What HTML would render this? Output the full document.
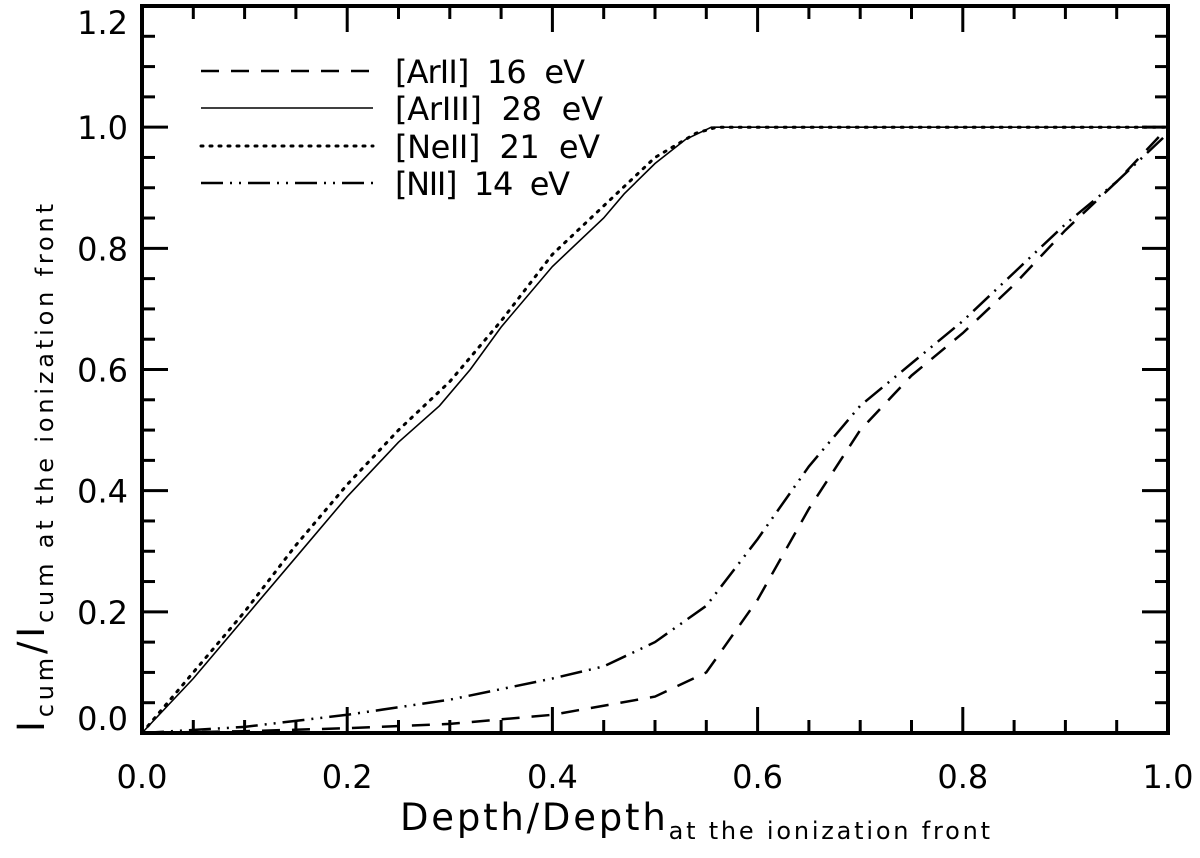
<!DOCTYPE html>
<html><head><meta charset="utf-8"><style>
body{margin:0;background:#fff;}
svg text{font-family:"DejaVu Sans","Liberation Sans",sans-serif;fill:#000;}
</style></head><body>
<svg id="chart" width="1200" height="853" xmlns="http://www.w3.org/2000/svg">
<g id="axes"></g>
<g id="series"></g>
<g id="legend"></g>
<text x="400" y="830" font-size="37" textLength="590" lengthAdjust="spacing">Depth/Depth<tspan font-size="24" dy="9">at the ionization front</tspan></text>
<text transform="translate(44,732) rotate(-90)" font-size="37" textLength="528" lengthAdjust="spacing">I<tspan font-size="24" dy="9">cum</tspan><tspan dy="-9">/I</tspan><tspan font-size="24" dy="9">cum at the ionization front</tspan></text>
</svg>
<script>
const xTicks=[0,0.2,0.4,0.6,0.8,1.0];
const yTicks=[0,0.2,0.4,0.6,0.8,1.0,1.2];
const arIIx=[0,0.1,0.2,0.3,0.4,0.5,0.55,0.6,0.65,0.7,0.75,0.8,0.85,0.9,0.95,1];
const arIIy=[0,0.003,0.008,0.015,0.03,0.06,0.1,0.22,0.37,0.5,0.59,0.66,0.74,0.83,0.91,1.0];
const arIIIx=[0,0.05,0.1,0.15,0.2,0.25,0.29,0.32,0.35,0.4,0.45,0.47,0.5,0.53,0.555,1];
const arIIIy=[0,0.09,0.19,0.29,0.39,0.48,0.54,0.6,0.67,0.77,0.85,0.89,0.94,0.98,1.0,1.0];
const neIIx=[0,0.05,0.1,0.15,0.2,0.25,0.3,0.35,0.4,0.45,0.5,0.54,0.56,1];
const neIIy=[0,0.1,0.2,0.31,0.41,0.5,0.58,0.68,0.79,0.87,0.95,0.99,1.0,1.0];
const nIIx=[0,0.1,0.2,0.3,0.4,0.45,0.5,0.55,0.6,0.65,0.7,0.75,0.8,0.85,0.9,0.95,1];
const nIIy=[0,0.01,0.03,0.055,0.09,0.11,0.15,0.21,0.32,0.44,0.54,0.61,0.68,0.76,0.84,0.91,0.99];
const seriesNames=["[ArII]  16  eV","[ArIII]  28  eV","[NeII]  21  eV","[NII]  14  eV"];

const L=142,R=1168,T=6,B=733;
const sx=v=>L+v*(R-L);
const sy=v=>B-v/1.2*(B-T);
const NS="http://www.w3.org/2000/svg";
function mk(tag,attrs,parent){const e=document.createElementNS(NS,tag);for(const k in attrs)e.setAttribute(k,attrs[k]);parent.appendChild(e);return e;}
const axes=document.getElementById('axes');
const fr=mk('rect',{x:L,y:T,width:R-L,height:B-T,fill:'none',stroke:'#000','stroke-width':4},axes);


for(let i=0;i<=20;i++){const v=i*0.05;const x=sx(v);const len=(i%4==0)?26:13;
 const t1=mk('line',{x1:x,y1:B,x2:x,y2:B-len,stroke:'#000','stroke-width':3},axes);
 
 
 const t2=mk('line',{x1:x,y1:T,x2:x,y2:T+len,stroke:'#000','stroke-width':3},axes);
 
 }
for(let i=0;i<=24;i++){const v=i*0.05;const y=sy(v);const len=(i%4==0)?26:13;
 const t1=mk('line',{x1:L,y1:y,x2:L+len,y2:y,stroke:'#000','stroke-width':3},axes);
 
 
 const t2=mk('line',{x1:R,y1:y,x2:R-len,y2:y,stroke:'#000','stroke-width':3},axes);
 
 }
xTicks.forEach(v=>{const t=mk('text',{x:sx(v),y:788,'text-anchor':'middle','font-size':32},axes);t.textContent=v.toFixed(1);
 
 });
yTicks.forEach(v=>{let y=sy(v)+12;y=Math.min(Math.max(y,34),730);
 const t=mk('text',{x:128,y:y,'text-anchor':'end','font-size':32},axes);t.textContent=v.toFixed(1);
 
 });
const styles=[{dash:'18,12',w:2.5},{dash:'',w:1.6},{dash:'2,7',w:3},{dash:'22,7,2,7,2,7',w:2.5}];
const xs=[arIIx,arIIIx,neIIx,nIIx], ys=[arIIy,arIIIy,neIIy,nIIy];
const ser=document.getElementById('series');
const names=['arii-line','ariii-line','neii-line','nii-line'];
xs.forEach((X,k)=>{const d=X.map((x,i)=>(i?'L':'M')+sx(x).toFixed(1)+','+sy(ys[k][i]).toFixed(1)).join(' ');
 const p=mk('path',{d:d,fill:'none',stroke:'#000','stroke-width':styles[k].w,'stroke-dasharray':styles[k].dash,'stroke-linecap':k==2?'round':'butt'},ser);
 
 });
const leg=document.getElementById('legend');
const rows=[71,108,146,183];
const widths=[190,208,205,175];
seriesNames.forEach((n,k)=>{const y=rows[k];
 const g=mk('g',{},leg);
 
 
 mk('line',{x1:201,y1:y,x2:373,y2:y,stroke:'#000','stroke-width':styles[k].w,'stroke-dasharray':styles[k].dash,'stroke-linecap':k==2?'round':'butt'},g);
 const t=mk('text',{x:395,y:y+12,'font-size':32,textLength:widths[k],lengthAdjust:'spacing'},g);t.textContent=n;t.style.whiteSpace='pre';});
</script>
</body></html>
